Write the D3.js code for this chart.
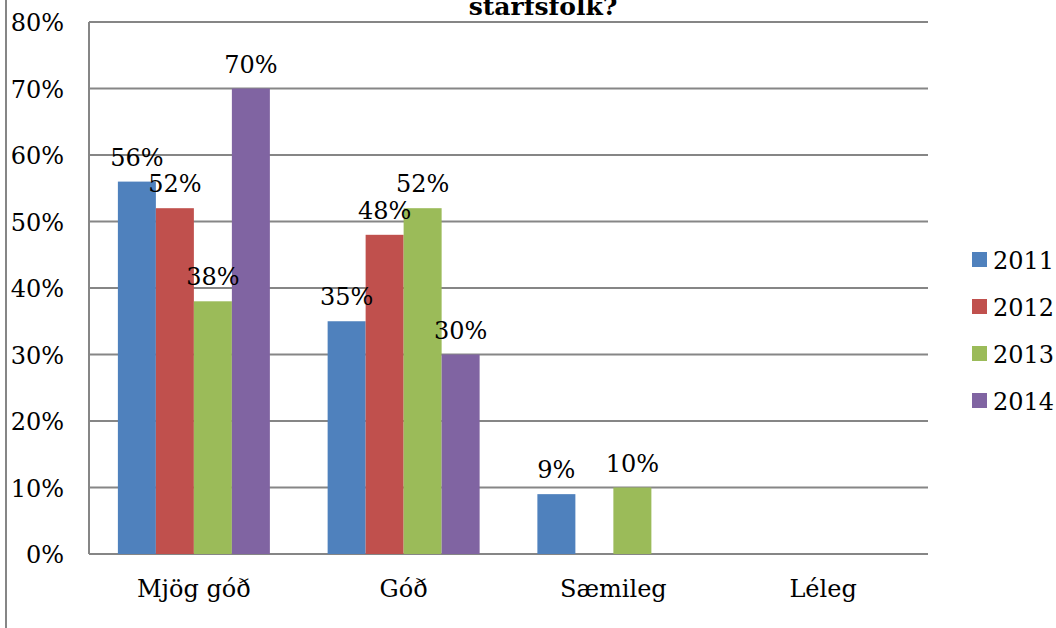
<!DOCTYPE html>
<html>
<head>
<meta charset="utf-8">
<script src="https://cdn.jsdelivr.net/npm/d3@7"></script>
<style>
  body { margin: 0; background: #fff; }
  svg { display: block; font-family: "DejaVu Serif", "Liberation Serif", serif; }
</style>
</head>
<body>
<svg id="chart" width="1056" height="628"></svg>
<script>
var categories = ["Mjög góð", "Góð", "Sæmileg", "Léleg"];
var years = ["2011", "2012", "2013", "2014"];
// values in %, null = no bar
var v2011 = [56, 35, 9, null];
var v2012 = [52, 48, null, null];
var v2013 = [38, 52, 10, null];
var v2014 = [70, 30, null, null];
var yTicks = [0, 10, 20, 30, 40, 50, 60, 70, 80];
var colors = ["#4f81bd", "#c0504d", "#9bbb59", "#8064a2"];

var seriesList = [v2011, v2012, v2013, v2014];

var svg = d3.select("#chart");
var plotLeft = 89, plotRight = 928, plotTop = 22, plotBottom = 554;

// outer frame line on the left
svg.append("line")
  .attr("x1", 6).attr("x2", 6).attr("y1", 0).attr("y2", 628)
  .attr("stroke", "#868686").attr("stroke-width", 2);

var x0 = d3.scaleBand().domain(categories).range([plotLeft, plotRight]).paddingInner(0).paddingOuter(0);
var x1 = d3.scaleBand().domain(years).range([0, x0.bandwidth()]).paddingOuter(0.76).paddingInner(0);
var y = d3.scaleLinear().domain([0, 80]).range([plotBottom, plotTop]);

// gridlines
svg.append("g").selectAll("line")
  .data(yTicks)
  .enter()
  .append("line")
  .attr("x1", plotLeft).attr("x2", plotRight)
  .attr("y1", function(d){ return y(d); })
  .attr("y2", function(d){ return y(d); })
  .attr("stroke", "#868686").attr("stroke-width", 2);

// plot left border
svg.append("line")
  .attr("x1", plotLeft).attr("x2", plotLeft).attr("y1", plotTop).attr("y2", plotBottom)
  .attr("stroke", "#868686").attr("stroke-width", 2);

// y labels
svg.append("g").selectAll("text")
  .data(yTicks)
  .enter()
  .append("text")
  .attr("x", 64)
  .attr("y", function(d){ return y(d) + 9; })
  .attr("text-anchor", "end")
  .attr("font-size", 24)
  .text(function(d){ return d + "%"; });

// bars
var groups = svg.append("g").selectAll("g")
  .data(seriesList)
  .enter()
  .append("g")
  .attr("fill", function(d, i){ return colors[i]; });

groups.each(function(vals, si){
  var g = d3.select(this);
  var pts = categories.map(function(c, ci){ return {c: c, v: vals[ci]}; })
    .filter(function(p){ return p.v !== null; });
  g.selectAll("rect")
    .data(pts)
    .enter()
    .append("rect")
    .attr("x", function(p){ return x0(p.c) + x1(years[si]); })
    .attr("width", x1.bandwidth())
    .attr("y", function(p){ return y(p.v); })
    .attr("height", function(p){ return plotBottom - y(p.v); });
});

// value labels (drawn after all bars)
seriesList.forEach(function(vals, si){
  categories.forEach(function(c, ci){
    if (vals[ci] === null) return;
    svg.append("text")
      .attr("x", x0(c) + x1(years[si]) + x1.bandwidth() / 2)
      .attr("y", y(vals[ci]) - 16)
      .attr("text-anchor", "middle")
      .attr("font-size", 24)
      .text(vals[ci] + "%");
  });
});

// x labels
svg.append("g").selectAll("text")
  .data(categories)
  .enter()
  .append("text")
  .attr("x", function(c){ return x0(c) + x0.bandwidth() / 2; })
  .attr("y", 597)
  .attr("text-anchor", "middle")
  .attr("font-size", 24)
  .text(function(c){ return c; });

// title (cut off at top)
svg.append("text")
  .attr("x", 543).attr("y", 15)
  .attr("text-anchor", "middle")
  .attr("font-size", 25)
  .attr("font-weight", "bold")
  .text("starfsfólk?");

// legend
var legend = svg.append("g").selectAll("g")
  .data(years)
  .enter()
  .append("g")
  .attr("transform", function(d, i){ return "translate(972," + (260 + i * 47) + ")"; });
legend.append("rect")
  .attr("x", 0).attr("y", -8).attr("width", 15).attr("height", 15)
  .attr("fill", function(d, i){ return colors[i]; });
legend.append("text")
  .attr("x", 21).attr("y", 9)
  .attr("font-size", 24)
  .text(function(d){ return d; });
</script>
</body>
</html>
